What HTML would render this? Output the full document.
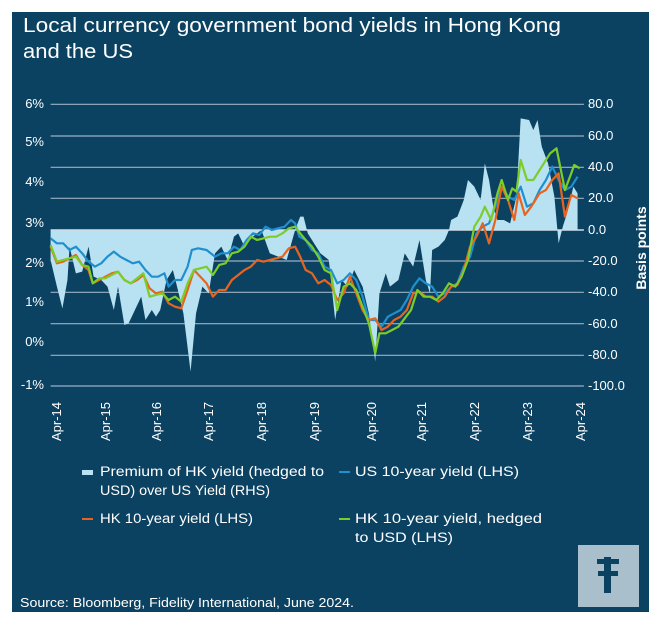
<!DOCTYPE html>
<html><head><meta charset="utf-8"><style>
body{margin:0;background:#fff;width:658px;height:619px;overflow:hidden;font-family:"Liberation Sans",sans-serif}
</style></head><body>
<svg width="658" height="619" viewBox="0 0 658 619" xmlns="http://www.w3.org/2000/svg" font-family="Liberation Sans, sans-serif">
<rect x="12" y="12" width="637" height="600" fill="#0b4262"/>
<text x="23" y="32" fill="#fff" font-size="20" textLength="538" lengthAdjust="spacingAndGlyphs">Local currency government bond yields in Hong Kong</text>
<text x="23" y="58" fill="#fff" font-size="20" textLength="110" lengthAdjust="spacingAndGlyphs">and the US</text>
<g fill="#fff" font-size="13">
<text x="44" y="108" text-anchor="end">6%</text>
<text x="44" y="146" text-anchor="end">5%</text>
<text x="44" y="186" text-anchor="end">4%</text>
<text x="44" y="227" text-anchor="end">3%</text>
<text x="44" y="267" text-anchor="end">2%</text>
<text x="44" y="306" text-anchor="end">1%</text>
<text x="44" y="346" text-anchor="end">0%</text>
<text x="44" y="389" text-anchor="end">-1%</text>
<text x="588" y="108">80.0</text>
<text x="588" y="140">60.0</text>
<text x="588" y="171">40.0</text>
<text x="588" y="202">20.0</text>
<text x="588" y="234">0.0</text>
<text x="588" y="265">-20.0</text>
<text x="588" y="296">-40.0</text>
<text x="588" y="328">-60.0</text>
<text x="588" y="359">-80.0</text>
<text x="588" y="390">-100.0</text>
<text transform="translate(646,248) rotate(-90)" text-anchor="middle" font-weight="bold" font-size="14">Basis points</text>
</g>
<g transform="translate(0,80) scale(0.42159,0.33333)">
<g stroke="#9ab0c2" stroke-width="1.2">
<line x1="120" x2="1385" y1="73" y2="73" vector-effect="non-scaling-stroke"/>
<line x1="120" x2="1385" y1="168" y2="168" vector-effect="non-scaling-stroke"/>
<line x1="120" x2="1385" y1="262" y2="262" vector-effect="non-scaling-stroke"/>
<line x1="120" x2="1385" y1="355" y2="355" vector-effect="non-scaling-stroke"/>
<line x1="120" x2="1385" y1="543" y2="543" vector-effect="non-scaling-stroke"/>
<line x1="120" x2="1385" y1="637" y2="637" vector-effect="non-scaling-stroke"/>
<line x1="120" x2="1385" y1="731" y2="731" vector-effect="non-scaling-stroke"/>
<line x1="120" x2="1385" y1="826" y2="826" vector-effect="non-scaling-stroke"/>
<line x1="120" x2="1385" y1="918" y2="918" vector-effect="non-scaling-stroke"/>
</g>
<polygon fill="#b8e2f2" points="120,450 120,540 135,620 148,685 160,600 165,500 180,580 195,575 210,500 222,590 240,600 255,620 270,690 280,620 295,735 305,730 320,690 335,650 345,720 360,690 370,710 380,690 395,600 410,570 420,620 435,700 452,875 465,700 480,620 495,640 510,520 525,500 540,540 555,470 565,460 580,500 600,470 620,450 640,520 660,530 680,540 700,450 712,410 720,410 730,460 760,520 780,540 795,720 810,600 825,620 840,570 860,620 875,700 890,845 900,640 915,580 925,620 945,600 960,520 980,560 995,480 1010,600 1020,640 1025,510 1040,500 1055,480 1065,450 1070,420 1085,410 1100,360 1110,300 1125,320 1140,360 1150,250 1160,300 1170,380 1180,420 1195,420 1210,430 1225,350 1235,115 1255,120 1265,150 1275,120 1285,200 1300,250 1315,350 1325,490 1335,440 1345,400 1360,320 1370,340 1370,450"/>
<line x1="120" x2="1385" y1="450" y2="450" stroke="#d0dde6" stroke-width="1.5" vector-effect="non-scaling-stroke"/>
<g fill="none" stroke-width="2.2" stroke-linejoin="round">
<polyline vector-effect="non-scaling-stroke" stroke="#1f8fd0" points="120,475 135,490 150,490 165,510 180,500 195,520 210,545 225,560 240,550 255,530 270,515 285,530 300,540 315,550 330,545 345,570 360,590 375,590 390,580 400,620 415,600 430,600 445,560 455,510 470,505 490,510 510,530 525,520 540,520 555,500 570,510 585,480 600,460 615,465 630,440 645,450 660,445 675,440 690,420 700,430 710,470 725,480 740,510 755,520 770,560 785,570 800,610 815,600 830,580 845,600 860,650 875,720 890,720 905,740 920,710 935,700 950,690 965,660 980,620 995,595 1010,610 1025,620 1040,650 1055,640 1070,620 1085,610 1100,560 1115,530 1130,460 1145,440 1160,430 1175,380 1190,320 1205,350 1220,360 1235,320 1250,380 1265,370 1280,330 1295,300 1310,260 1325,300 1340,330 1355,320 1370,290"/>
<polyline vector-effect="non-scaling-stroke" stroke="#e8641e" points="120,500 135,550 150,545 165,535 180,525 195,555 210,570 220,610 235,600 250,590 265,580 280,575 295,600 310,610 325,600 340,585 355,625 370,640 385,635 400,670 415,680 430,685 445,630 460,570 475,590 490,610 505,650 520,630 535,630 550,600 565,585 580,570 595,560 610,540 625,545 640,540 655,535 670,530 685,505 700,500 712,530 725,570 740,580 755,610 770,600 785,615 800,660 815,640 830,590 845,640 860,690 875,720 890,715 905,750 920,740 935,720 950,710 965,690 980,640 995,635 1010,650 1025,650 1040,665 1055,650 1070,620 1085,615 1100,570 1115,500 1130,470 1145,430 1160,490 1175,420 1190,320 1205,360 1220,420 1230,340 1245,405 1260,380 1280,340 1295,330 1310,300 1325,280 1340,410 1355,345 1370,355"/>
<polyline vector-effect="non-scaling-stroke" stroke="#7ccc2a" points="120,495 135,545 150,540 165,535 180,530 195,555 210,560 220,610 235,595 250,595 265,585 280,575 295,600 310,610 325,595 340,580 355,650 370,645 385,640 400,660 415,650 430,665 445,610 460,570 475,565 490,560 505,585 520,555 535,550 550,520 565,515 580,500 595,470 610,480 625,475 640,470 655,470 670,460 685,445 700,440 712,460 725,480 740,500 755,530 770,570 785,580 800,690 815,620 830,610 845,630 860,680 875,730 890,820 900,760 915,760 930,750 945,740 960,715 975,690 990,630 1005,650 1020,650 1035,660 1050,640 1065,610 1080,620 1095,590 1110,540 1125,440 1140,410 1150,380 1165,420 1180,340 1190,300 1205,360 1215,325 1225,335 1235,240 1250,300 1265,300 1280,270 1290,250 1305,220 1320,205 1340,330 1355,280 1362,255 1375,265"/>
</g>
</g>
<g fill="#fff" font-size="13">
<text transform="translate(61,441) rotate(-90)">Apr-14</text>
<text transform="translate(110,441) rotate(-90)">Apr-15</text>
<text transform="translate(161,441) rotate(-90)">Apr-16</text>
<text transform="translate(213,441) rotate(-90)">Apr-17</text>
<text transform="translate(266,441) rotate(-90)">Apr-18</text>
<text transform="translate(319,441) rotate(-90)">Apr-19</text>
<text transform="translate(376,441) rotate(-90)">Apr-20</text>
<text transform="translate(426,441) rotate(-90)">Apr-21</text>
<text transform="translate(479,441) rotate(-90)">Apr-22</text>
<text transform="translate(532,441) rotate(-90)">Apr-23</text>
<text transform="translate(585,441) rotate(-90)">Apr-24</text>
</g>
<g font-size="13.5" fill="#fff" lengthAdjust="spacingAndGlyphs">
<rect x="82" y="470" width="11" height="5" fill="#b8e2f2"/>
<text x="100" y="476" textLength="224" lengthAdjust="spacingAndGlyphs">Premium of HK yield (hedged to</text>
<text x="100" y="495" textLength="170" lengthAdjust="spacingAndGlyphs">USD) over US Yield (RHS)</text>
<rect x="82" y="518" width="11" height="2" fill="#e8641e"/>
<text x="100" y="523" textLength="153" lengthAdjust="spacingAndGlyphs">HK 10-year yield (LHS)</text>
<rect x="339" y="471" width="11" height="2" fill="#1f8fd0"/>
<text x="355" y="476" textLength="164" lengthAdjust="spacingAndGlyphs">US 10-year yield (LHS)</text>
<rect x="339" y="518" width="11" height="2" fill="#7ccc2a"/>
<text x="355" y="523" textLength="187" lengthAdjust="spacingAndGlyphs">HK 10-year yield, hedged</text>
<text x="355" y="542" textLength="98" lengthAdjust="spacingAndGlyphs">to USD (LHS)</text>
<text x="20" y="607" font-size="12.5" textLength="334" lengthAdjust="spacingAndGlyphs">Source: Bloomberg, Fidelity International, June 2024.</text>
</g>
<rect x="578" y="545" width="61" height="62" fill="#a9bfcc"/>
<g fill="#0b4262">
<rect x="604" y="557" width="7" height="36"/>
<rect x="597" y="559" width="22" height="5"/>
<rect x="598" y="571" width="20" height="5"/>
</g>
</svg>
</body></html>
